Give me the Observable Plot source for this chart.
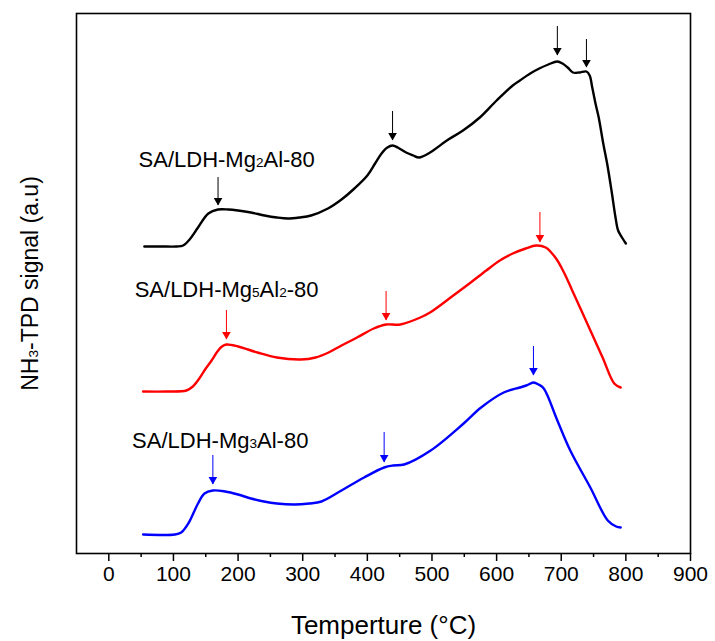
<!DOCTYPE html>
<html>
<head>
<meta charset="utf-8">
<script src="https://cdn.jsdelivr.net/npm/d3@7"></script>
<script src="https://cdn.jsdelivr.net/npm/@observablehq/plot@0.6"></script>
<style>
  body { margin: 0; background: #fff; }
  #chart svg { font-family: "Liberation Sans", Arial, sans-serif; }
</style>
</head>
<body>
<div id="chart"></div>
<script>
// ---------- data (temperature in °C, signal in arbitrary units) ----------
const tempMg2Al = [55, 80, 105, 115, 125, 138, 154, 169, 185, 200, 220, 241, 260, 277, 295, 313, 339, 360, 380, 400, 412, 422, 431, 439, 447, 460, 471, 480, 497, 523, 548, 574, 600, 625, 636, 652, 666, 680, 694, 702, 710, 718, 728, 739, 744, 748, 753, 758, 765, 771, 778, 784, 788, 794, 800];
const sigMg2Al  = [307, 307, 307, 308, 314, 326, 340, 344, 344, 343, 341, 338, 336, 335, 336, 338, 345, 354, 365, 378, 390, 400, 406, 408, 406, 401, 398, 396, 401, 413, 423, 436, 453, 468, 473, 480, 485, 489, 492, 490, 486, 481, 481, 482, 478, 466, 450, 436, 410, 390, 362, 336, 323, 316, 310];

const tempMg5Al2 = [53, 90, 120, 130, 140, 150, 159, 168, 175, 182, 200, 230, 260, 297, 320, 340, 360, 384, 410, 429, 451, 482, 497, 533, 560, 584, 605, 625, 645, 661, 676, 692, 705, 717, 743, 764, 782, 792];
const sigMg5Al2  = [162, 162, 163, 167, 175, 185, 193, 202, 207, 209, 207, 201, 196, 194, 196, 201, 208, 216, 225, 229, 229, 236, 241, 258, 271, 283, 293, 300, 305, 308, 306, 295, 280, 263, 226, 196, 170, 166];

const tempMg3Al = [53, 102, 112, 123, 138, 148, 161, 180, 200, 220, 240, 260, 287, 310, 329, 360, 395, 426, 440, 457, 498, 549, 576, 611, 636, 646, 657, 665, 673, 694, 714, 745, 772, 785, 792];
const sigMg3Al  = [19, 19, 21, 30, 50, 60, 63, 62, 59, 55, 52, 50, 49, 50, 52, 63, 76, 86, 88, 89, 103, 130, 146, 161, 166, 168, 171, 169, 165, 133, 103, 66, 33, 27, 26];

// peak-marker arrows: temperature, arrow start signal, arrow tip signal
const arrowTMg2Al   = [169, 439, 694, 739];
const arrowTopMg2Al = [376, 442, 527, 514];
const arrowTipMg2Al = [348, 413, 498, 486];
const arrowTMg5Al2   = [182, 429, 667];
const arrowTopMg5Al2 = [243, 262, 341];
const arrowTipMg5Al2 = [214, 233, 311];
const arrowTMg3Al   = [161, 426, 657];
const arrowTopMg3Al = [98, 121, 207];
const arrowTipMg3Al = [69, 91, 178];

// series names ("_" marks a subscript digit), colors, label anchors
const seriesNames  = ["SA/LDH-Mg_2Al-80", "SA/LDH-Mg_5Al_2-80", "SA/LDH-Mg_3Al-80"];
const seriesColors = ["#000000", "#ff0000", "#0000ff"];
const labelT   = [46, 40, 36];
const labelSig = [394, 264, 113];

const majorTicks = [0, 100, 200, 300, 400, 500, 600, 700, 800, 900];
const minorTicks = [50, 150, 250, 350, 450, 550, 650, 750, 850];
const xLabel = "Temperture (°C)";
const yLabel = "NH_3-TPD signal (a.u)";

// ---------- build tables ----------
const zip = (ts, vs) => ts.map((t, i) => ({t, v: vs[i]}));
const arrows = (ts, tops, tips) => ts.map((t, i) => ({t, top: tops[i], tip: tips[i]}));
const series = [
  {data: zip(tempMg2Al, sigMg2Al), arrows: arrows(arrowTMg2Al, arrowTopMg2Al, arrowTipMg2Al)},
  {data: zip(tempMg5Al2, sigMg5Al2), arrows: arrows(arrowTMg5Al2, arrowTopMg5Al2, arrowTipMg5Al2)},
  {data: zip(tempMg3Al, sigMg3Al), arrows: arrows(arrowTMg3Al, arrowTopMg3Al, arrowTipMg3Al)}
];
const labels = seriesNames.map((name, i) => ({name, t: labelT[i], v: labelSig[i], color: seriesColors[i]}));

const marks = [];
series.forEach((s, i) => {
  const c = seriesColors[i];
  marks.push(Plot.line(s.data, {x: "t", y: "v", stroke: c, strokeWidth: 2.4, curve: "catmull-rom"}));
  marks.push(Plot.ruleX(s.arrows, {x: "t", y1: "top", y2: "tip", stroke: c, strokeWidth: 1}));
  marks.push(Plot.dot(s.arrows, {x: "t", y: "tip", symbol: "triangle", rotate: 180, r: 3.2, fill: c, stroke: "none", dy: -5}));
});
marks.push(Plot.text(labels, {x: "t", y: "v", text: "name", textAnchor: "start", fontSize: 22, fill: "#000"}));
marks.push(Plot.frame({stroke: "#000", strokeWidth: 1.6}));
marks.push(Plot.axisX({ticks: majorTicks, tickSize: 8, tickPadding: 5, fontSize: 21, strokeWidth: 1.5, label: null, tickFormat: d => String(d)}));
marks.push(Plot.axisX({ticks: minorTicks, tickSize: 4, strokeWidth: 1.5, label: null, tickFormat: () => ""}));
marks.push(Plot.text([xLabel], {frameAnchor: "bottom", dy: 72, lineAnchor: "middle", textAnchor: "middle", fontSize: 26, fill: "#000", text: d => d}));
marks.push(Plot.text([yLabel], {frameAnchor: "left", dx: -46, rotate: -90, lineAnchor: "middle", textAnchor: "middle", fontSize: 23, fill: "#000", text: d => d}));

const chart = Plot.plot({
  width: 715,
  height: 641,
  marginLeft: 76,
  marginRight: 25,
  marginTop: 13,
  marginBottom: 88,
  style: {background: "#fff", color: "#000", fontFamily: "Liberation Sans, Arial, sans-serif"},
  x: {domain: [-50, 900]},
  y: {domain: [0, 540], axis: null},
  marks
});

// render "_d" as small subscript digits
d3.select(chart).selectAll("text").each(function() {
  const raw = this.textContent;
  if (!raw.includes("_")) return;
  const size = parseFloat(getComputedStyle(this).fontSize) || parseFloat(this.getAttribute("font-size")) || 22;
  const parts = raw.split(/_(\d)/);
  const el = d3.select(this);
  el.text(null);
  parts.forEach((p, k) => {
    if (!p) return;
    const ts = el.append("tspan").text(p);
    if (k % 2 === 1) ts.attr("font-size", (size * 0.62).toFixed(1));
  });
});

document.getElementById("chart").appendChild(chart);
</script>
</body>
</html>
